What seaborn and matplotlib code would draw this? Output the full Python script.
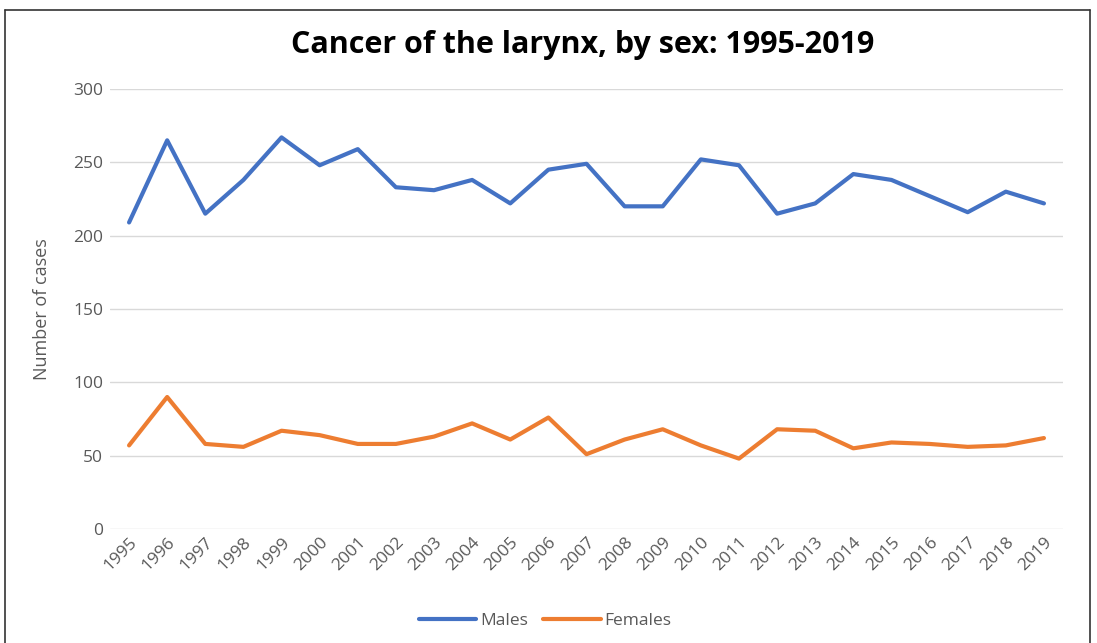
import pandas as pd
import matplotlib.pyplot as plt
import seaborn as sns
from matplotlib.lines import Line2D

# =========================
# Data
# =========================
years = list(range(1995, 2020))
males = [209, 265, 215, 238, 267, 248, 259, 233, 231, 238, 222, 245, 249,
         220, 220, 252, 248, 215, 222, 242, 238, 227, 216, 230, 222]
females = [57, 90, 58, 56, 67, 64, 58, 58, 63, 72, 61, 76, 51,
           61, 68, 57, 48, 68, 67, 55, 59, 58, 56, 57, 62]

df = pd.DataFrame({
    "year": [str(y) for y in years] * 2,
    "cases": males + females,
    "sex": ["Males"] * len(years) + ["Females"] * len(years),
})

palette = {"Males": "#4472C4", "Females": "#ED7D31"}

sns.set_theme(style="white")
plt.rcParams["font.family"] = ["Open Sans", "DejaVu Sans"]

fig = plt.figure(figsize=(10.97, 6.43), dpi=100)
ax = fig.add_axes([110 / 1097, 1 - 529 / 643, 953 / 1097, 440 / 643])

sns.lineplot(data=df, x="year", y="cases", hue="sex", palette=palette,
             linewidth=3, sort=False, legend=False, ax=ax)

ax.set_ylim(0, 300)
ax.set_yticks(range(0, 301, 50))
ax.set_xlim(-0.5, len(years) - 0.5)
ax.yaxis.grid(True, color="#D9D9D9", linewidth=1)
ax.set_axisbelow(True)
for s in ["top", "right", "left", "bottom"]:
    ax.spines[s].set_visible(False)
ax.tick_params(axis="both", length=0, colors="#595959", labelsize=12.5)
ax.tick_params(axis="y", pad=5)
ax.tick_params(axis="x", pad=4)
plt.setp(ax.get_xticklabels(), rotation=45, ha="right", rotation_mode="anchor")
ax.set_xlabel("")
ax.set_ylabel("Number of cases", fontsize=13, color="#595959", labelpad=16)

fig.text(583 / 1097, 1 - 45 / 643, "Cancer of the larynx, by sex: 1995-2019",
         ha="center", va="center", fontsize=22, fontweight="bold", color="black")

handles = [Line2D([0], [0], color=palette[k], lw=3) for k in ["Males", "Females"]]
fig.legend(handles, ["Males", "Females"], loc="center", ncol=2,
           bbox_to_anchor=(545 / 1097, 1 - 621 / 643), frameon=False,
           fontsize=12.5, labelcolor="#595959", handlelength=3.3,
           handletextpad=0.2, columnspacing=0.9)

# outer frame of the chart
fig.add_artist(Line2D([5 / 1097, 1090 / 1097], [1 - 10 / 643, 1 - 10 / 643],
                      color="#333333", lw=1.2, transform=fig.transFigure))
fig.add_artist(Line2D([5 / 1097, 5 / 1097], [0, 1 - 10 / 643],
                      color="#333333", lw=1.2, transform=fig.transFigure))
fig.add_artist(Line2D([1090 / 1097, 1090 / 1097], [0, 1 - 10 / 643],
                      color="#333333", lw=1.2, transform=fig.transFigure))

fig.savefig("out.png", dpi=100)
